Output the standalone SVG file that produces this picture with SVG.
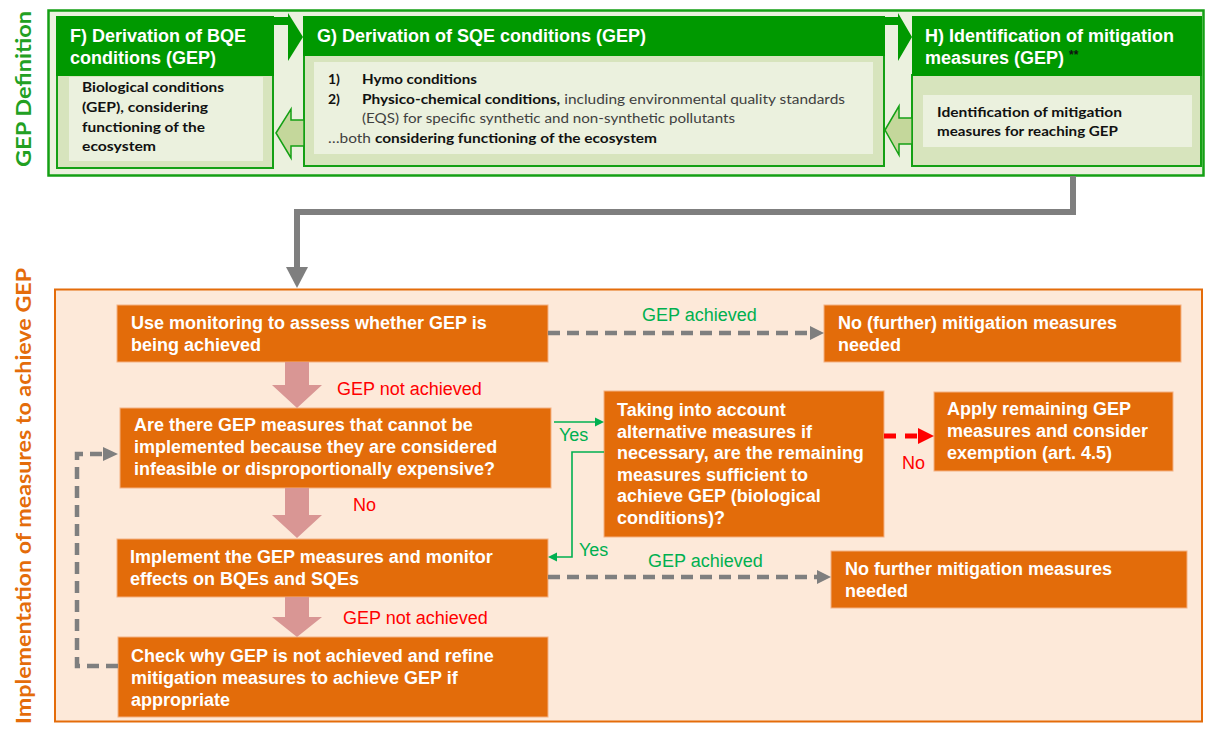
<svg xmlns="http://www.w3.org/2000/svg" width="1206" height="731" viewBox="0 0 1206 731">
<defs>
<style>
.hdr{fill:#009900}
.body{fill:#d7e4bd;stroke:#14a014;stroke-width:2}
.inner{fill:#ebf1de}
.back{fill:#c4d79b;stroke:#14a014;stroke-width:1.5}
.fwd{fill:#009900}
.ht{font-family:"Liberation Sans",Arial,sans-serif;font-weight:bold;font-size:18px;fill:#ffffff}
.ct{font-family:Lato,"Open Sans",sans-serif;font-size:14px;fill:#1a1a1a}
.b{font-weight:bold;fill:#111111}
.n{font-weight:normal;fill:#3f3f3f}
.node{fill:#e36c0a;stroke:#f4b183;stroke-width:1}
.nt{font-family:"Liberation Sans",Arial,sans-serif;font-weight:bold;font-size:18px;fill:#ffffff}
.lbl{font-family:"Liberation Sans",Arial,sans-serif;font-size:18px}
.red{fill:#ff0000}
.grn{fill:#00b050}
.pink{fill:#d99694}
.gdash{fill:none;stroke:#7f7f7f;stroke-width:4.5;stroke-dasharray:12 7}
.ghead{fill:#7f7f7f}
.vt{font-family:Lato,"Open Sans",sans-serif;font-weight:bold;font-size:21px}
</style>
</defs>

<!-- vertical section labels -->
<text class="vt" fill="#22a022" transform="translate(31,89) rotate(-90)" text-anchor="middle" textLength="156" lengthAdjust="spacingAndGlyphs">GEP Definition</text>
<text class="vt" fill="#e46c0a" transform="translate(31,268) rotate(-90)" text-anchor="end" textLength="456" lengthAdjust="spacingAndGlyphs">Implementation of measures to achieve GEP</text>

<!-- GEP definition panel -->
<g id="gep-definition">
<rect x="48.5" y="10.5" width="1155" height="165" fill="#ebf1de" stroke="#14a014" stroke-width="2.5"/>
</g>

<g id="nodeF">
<rect class="body" x="57" y="75" width="216" height="93"/>
<rect class="hdr" x="56" y="16" width="218" height="60"/>
<rect class="inner" x="69" y="77" width="194" height="84"/>
<text class="ht" x="70" y="42">F) Derivation of BQE</text>
<text class="ht" x="70" y="64">conditions (GEP)</text>
<text class="ct b" x="82" y="92" textLength="142" lengthAdjust="spacingAndGlyphs">Biological conditions</text>
<text class="ct b" x="82" y="112" textLength="126" lengthAdjust="spacingAndGlyphs">(GEP), considering</text>
<text class="ct b" x="82" y="132" textLength="123" lengthAdjust="spacingAndGlyphs">functioning of the</text>
<text class="ct b" x="82" y="151" textLength="74" lengthAdjust="spacingAndGlyphs">ecosystem</text>
</g>

<g id="nodeG">
<rect class="body" x="304" y="55" width="580" height="111"/>
<rect class="hdr" x="303" y="16" width="582" height="40"/>
<rect class="inner" x="314" y="62" width="559" height="92"/>
<text class="ht" x="317" y="42">G) Derivation of SQE conditions (GEP)</text>
<text class="ct b" x="328" y="84">1)</text>
<text class="ct b" x="362" y="84" textLength="115" lengthAdjust="spacingAndGlyphs">Hymo conditions</text>
<text class="ct b" x="328" y="104">2)</text>
<text class="ct" x="362" y="104" textLength="483" lengthAdjust="spacingAndGlyphs"><tspan class="b">Physico-chemical conditions,</tspan><tspan class="n"> including environmental quality standards</tspan></text>
<text class="ct n" x="362" y="123" textLength="373" lengthAdjust="spacingAndGlyphs">(EQS) for specific synthetic and non-synthetic pollutants</text>
<text class="ct" x="328" y="143" textLength="329" lengthAdjust="spacingAndGlyphs"><tspan class="n">…both </tspan><tspan class="b">considering functioning of the ecosystem</tspan></text>
</g>

<g id="nodeH">
<rect class="body" x="912" y="75" width="289" height="91"/>
<rect class="hdr" x="912" y="16" width="290" height="60"/>
<rect class="inner" x="923" y="95" width="269" height="52"/>
<text class="ht" x="925" y="42">H) Identification of mitigation</text>
<text class="ht" x="925" y="64">measures (GEP) <tspan font-size="12" fill="#111111" dy="-5">**</tspan></text>
<text class="ct b" x="937" y="117" textLength="185" lengthAdjust="spacingAndGlyphs">Identification of mitigation</text>
<text class="ct b" x="937" y="136" textLength="181" lengthAdjust="spacingAndGlyphs">measures for reaching GEP</text>
</g>

<!-- Implementation panel -->
<g id="implementation">
<rect x="55" y="289.5" width="1147" height="432" fill="#fde9d9" stroke="#e46c0a" stroke-width="2"/>
</g>

<g id="n1"><rect class="node" x="117" y="305" width="431" height="57"/>
<text class="nt" x="131" y="329">Use monitoring to assess whether GEP is</text>
<text class="nt" x="131" y="351">being achieved</text></g>

<g id="n2"><rect class="node" x="824" y="305" width="357" height="57"/>
<text class="nt" x="838" y="329">No (further) mitigation measures</text>
<text class="nt" x="838" y="351">needed</text></g>

<g id="n3"><rect class="node" x="120" y="408" width="431" height="80"/>
<text class="nt" x="134" y="431">Are there GEP measures that cannot be</text>
<text class="nt" x="134" y="453">implemented because they are considered</text>
<text class="nt" x="134" y="475">infeasible or disproportionally expensive?</text></g>

<g id="n4"><rect class="node" x="604" y="391" width="280" height="146"/>
<text class="nt" x="617" y="416">Taking into account</text>
<text class="nt" x="617" y="438">alternative measures if</text>
<text class="nt" x="617" y="459">necessary, are the remaining</text>
<text class="nt" x="617" y="481">measures sufficient to</text>
<text class="nt" x="617" y="502">achieve GEP (biological</text>
<text class="nt" x="617" y="524">conditions)?</text></g>

<g id="n5"><rect class="node" x="934" y="392" width="239" height="79"/>
<text class="nt" x="947" y="415">Apply remaining GEP</text>
<text class="nt" x="947" y="437">measures and consider</text>
<text class="nt" x="947" y="459">exemption (art. 4.5)</text></g>

<g id="n6"><rect class="node" x="117" y="539" width="431" height="58"/>
<text class="nt" x="130" y="563">Implement the GEP measures and monitor</text>
<text class="nt" x="130" y="585">effects on BQEs and SQEs</text></g>

<g id="n7"><rect class="node" x="831" y="551" width="356" height="57"/>
<text class="nt" x="845" y="575">No further mitigation measures</text>
<text class="nt" x="845" y="597">needed</text></g>

<g id="n8"><rect class="node" x="118" y="637" width="430" height="80"/>
<text class="nt" x="131" y="662">Check why GEP is not achieved and refine</text>
<text class="nt" x="131" y="684">mitigation measures to achieve GEP if</text>
<text class="nt" x="131" y="706">appropriate</text></g>

<!-- connectors -->
<g id="connectors">
<polygon class="fwd" points="273,17 288,17 288,13 303,37 288,61 288,25 273,25"/>
<polygon class="fwd" points="884,17 898,17 898,13 912,37 898,61 898,25 884,25"/>
<polygon class="back" points="276,133 291,109 291,120 304,120 304,146 291,146 291,158"/>
<polygon class="back" points="885,130 899,106 899,118 912,118 912,144 899,144 899,155"/>

<path d="M1073,176 V212 H297 V270" fill="none" stroke="#7f7f7f" stroke-width="6"/>
<polygon class="ghead" points="286,267 308,267 297,288"/>

<polygon class="pink" points="285,362 309,362 309,385 322,385 297,408 272,385 285,385"/>
<polygon class="pink" points="285,488 309,488 309,515 322,515 297,538 272,515 285,515"/>
<polygon class="pink" points="285,597 309,597 309,617 322,617 297,637 272,617 285,617"/>

<path class="gdash" d="M548,333 H810"/>
<polygon class="ghead" points="810,326 824,333 810,340"/>
<path class="gdash" d="M548,577 H817"/>
<polygon class="ghead" points="817,570 831,577 817,584"/>
<path class="gdash" d="M118,666 H77 V454 H103"/>
<polygon class="ghead" points="103,447 118,454 103,461"/>

<path d="M554,422 H596" fill="none" stroke="#00b050" stroke-width="1.6"/>
<polygon fill="#00b050" points="595,417.5 604,422 595,426.5"/>
<path d="M604,452 H572 V557 H556" fill="none" stroke="#00b050" stroke-width="1.6"/>
<polygon fill="#00b050" points="557,552.5 548,557 557,561.5"/>

<path d="M884,436 H918" fill="none" stroke="#ff0000" stroke-width="5" stroke-dasharray="12 9"/>
<polygon fill="#ff0000" points="918,428 934,436 918,444"/>

<text class="lbl grn" x="642" y="321">GEP achieved</text>
<text class="lbl red" x="337" y="395">GEP not achieved</text>
<text class="lbl grn" x="559" y="441" font-size="14">Yes</text>
<text class="lbl red" x="902" y="469">No</text>
<text class="lbl red" x="353" y="511">No</text>
<text class="lbl grn" x="579" y="556" font-size="14">Yes</text>
<text class="lbl grn" x="648" y="567">GEP achieved</text>
<text class="lbl red" x="343" y="624">GEP not achieved</text>
</g>
</svg>
